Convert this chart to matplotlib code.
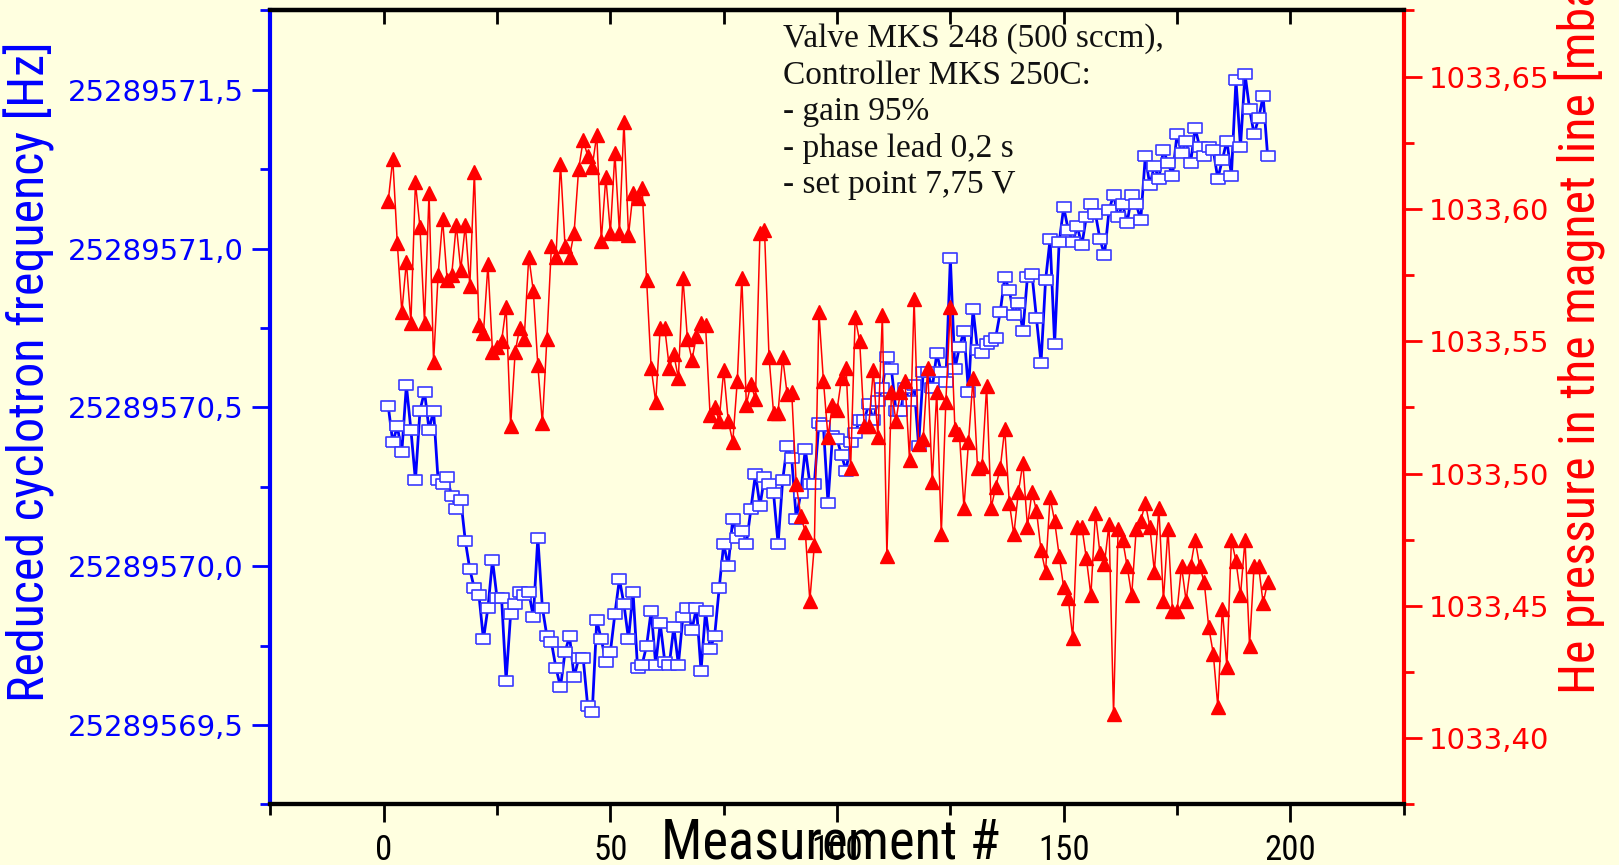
import numpy as np
import matplotlib
matplotlib.use("Agg")
import matplotlib.pyplot as plt
from matplotlib.ticker import MultipleLocator, FuncFormatter
from matplotlib import font_manager

# reduced cyclotron frequency, offset from 25289570 Hz
freq_base = 25289570
freq_offset = [
    0.505, 0.39, 0.44, 0.36, 0.57, 0.43, 0.27, 0.49, 0.55, 0.43,
    0.49, 0.27, 0.26, 0.28, 0.22, 0.18, 0.21, 0.08, -0.01, -0.07,
    -0.09, -0.23, -0.13, 0.02, -0.10, -0.10, -0.36, -0.15, -0.12, -0.08,
    -0.09, -0.08, -0.16, 0.09, -0.13, -0.22, -0.24, -0.32, -0.38, -0.27,
    -0.22, -0.35, -0.29, -0.29, -0.44, -0.46, -0.17, -0.23, -0.30, -0.27,
    -0.15, -0.04, -0.12, -0.23, -0.08, -0.32, -0.31, -0.25, -0.14, -0.31,
    -0.18, -0.30, -0.31, -0.19, -0.31, -0.16, -0.13, -0.20, -0.13, -0.33,
    -0.14, -0.26, -0.22, -0.07, 0.07, 0.00, 0.15, 0.09, 0.11, 0.07,
    0.18, 0.29, 0.19, 0.28, 0.26, 0.23, 0.07, 0.27, 0.38, 0.34,
    0.15, 0.23, 0.37, 0.26, 0.26, 0.45, 0.44, 0.20, 0.41, 0.40,
    0.35, 0.30, 0.39, 0.42, 0.46, 0.46, 0.51, 0.46, 0.52, 0.56,
    0.66, 0.62, 0.49, 0.49, 0.56, 0.52, 0.57, 0.38, 0.61, 0.61,
    0.56, 0.67, 0.61, 0.58, 0.97, 0.62, 0.69, 0.74, 0.55, 0.81,
    0.68, 0.67, 0.70, 0.71, 0.72, 0.80, 0.91, 0.87, 0.79, 0.83,
    0.74, 0.91, 0.92, 0.78, 0.64, 0.90, 1.03, 0.70, 1.02, 1.13,
    1.06, 1.02, 1.07, 1.01, 1.10, 1.14, 1.11, 1.03, 0.98, 1.12,
    1.17, 1.10, 1.14, 1.08, 1.17, 1.14, 1.09, 1.29, 1.20, 1.26,
    1.22, 1.31, 1.27, 1.23, 1.36, 1.30, 1.34, 1.27, 1.38, 1.32,
    1.29, 1.32, 1.31, 1.22, 1.28, 1.34, 1.23, 1.53, 1.32, 1.55,
    1.44, 1.36, 1.41, 1.48, 1.29,
]

# He pressure in the magnet line [mbar]
pressure = [
    1033.603, 1033.619, 1033.587, 1033.561, 1033.580, 1033.557, 1033.610, 1033.593, 1033.557, 1033.606,
    1033.542, 1033.575, 1033.596, 1033.573, 1033.575, 1033.594, 1033.577, 1033.594, 1033.571, 1033.614,
    1033.556, 1033.553, 1033.579, 1033.546, 1033.548, 1033.550, 1033.563, 1033.518, 1033.546, 1033.555,
    1033.551, 1033.582, 1033.569, 1033.541, 1033.519, 1033.551, 1033.586, 1033.582, 1033.617, 1033.586,
    1033.582, 1033.591, 1033.615, 1033.626, 1033.620, 1033.616, 1033.628, 1033.588, 1033.612, 1033.591,
    1033.621, 1033.591, 1033.633, 1033.590, 1033.606, 1033.604, 1033.608, 1033.573, 1033.540, 1033.527,
    1033.555, 1033.555, 1033.540, 1033.545, 1033.536, 1033.574, 1033.551, 1033.543, 1033.552, 1033.557,
    1033.556, 1033.522, 1033.525, 1033.520, 1033.539, 1033.520, 1033.512, 1033.535, 1033.574, 1033.526,
    1033.534, 1033.528, 1033.591, 1033.592, 1033.544, 1033.523, 1033.523, 1033.544, 1033.530, 1033.531,
    1033.496, 1033.484, 1033.478, 1033.452, 1033.473, 1033.561, 1033.535, 1033.514, 1033.526, 1033.524,
    1033.536, 1033.540, 1033.502, 1033.559, 1033.550, 1033.518, 1033.518, 1033.539, 1033.514, 1033.560,
    1033.469, 1033.531, 1033.520, 1033.531, 1033.535, 1033.505, 1033.566, 1033.511, 1033.513, 1033.540,
    1033.497, 1033.531, 1033.477, 1033.527, 1033.563, 1033.517, 1033.515, 1033.487, 1033.512, 1033.536,
    1033.502, 1033.503, 1033.533, 1033.487, 1033.495, 1033.502, 1033.517, 1033.489, 1033.477, 1033.493,
    1033.504, 1033.480, 1033.493, 1033.486, 1033.471, 1033.463, 1033.491, 1033.482, 1033.469, 1033.457,
    1033.453, 1033.438, 1033.480, 1033.480, 1033.468, 1033.454, 1033.485, 1033.470, 1033.466, 1033.481,
    1033.409, 1033.479, 1033.475, 1033.465, 1033.454, 1033.479, 1033.482, 1033.489, 1033.480, 1033.463,
    1033.487, 1033.452, 1033.479, 1033.448, 1033.448, 1033.465, 1033.452, 1033.465, 1033.475, 1033.465,
    1033.459, 1033.442, 1033.432, 1033.412, 1033.449, 1033.427, 1033.475, 1033.467, 1033.454, 1033.475,
    1033.435, 1033.465, 1033.465, 1033.451, 1033.459,
]

measurement = np.arange(1, len(freq_offset) + 1)

note = ("Valve MKS 248 (500 sccm),\nController MKS 250C:\n- gain 95%\n"
        "- phase lead 0,2 s\n- set point 7,75 V")

bg = "#ffffe0"
blue = "#0000ff"
red = "#ff0000"


def narrow_font():
    # look for some condensed sans face, fall back to plain DejaVu Sans
    fl = font_manager.fontManager.ttflist
    for want in ("Liberation Sans Narrow", "Roboto Condensed", "Open Sans Condensed"):
        for f in fl:
            if f.name == want and f.weight in (400, "normal", "regular") and f.style == "normal":
                return font_manager.FontProperties(fname=f.fname)
    for f in fl:
        if f.name == "DejaVu Sans" and "Condensed" in f.fname and "Bold" not in f.fname \
                and "Oblique" not in f.fname:
            return font_manager.FontProperties(fname=f.fname)
    for f in fl:
        if ("Condensed" in f.fname or "Narrow" in f.fname) and "Bold" not in f.fname \
                and "Italic" not in f.fname and "Oblique" not in f.fname and "Sans" in f.name:
            return font_manager.FontProperties(fname=f.fname)
    return font_manager.FontProperties(family="DejaVu Sans")


fp = narrow_font()

fig = plt.figure(figsize=(16.19, 8.65), dpi=100, facecolor=bg)
ax = fig.add_axes([0.167, 0.070, 0.700, 0.918])
ax.set_facecolor(bg)
ax2 = ax.twinx()

rect = [(-1.3, -1), (1.3, -1), (1.3, 1), (-1.3, 1), (-1.3, -1)]
ax.plot(measurement, freq_offset, color=blue, lw=2.0, marker=rect, ms=10,
        mfc="white", mec="#3a3aff", mew=1.2, zorder=3)
ax2.plot(measurement, pressure, color=red, lw=1.1, marker="^", ms=10,
         mfc=red, mec=red, zorder=3)

ax.set_xlim(-25, 225)
ax.set_ylim(-0.75, 1.75)
ax2.set_ylim(1033.375, 1033.675)

ax.xaxis.set_major_locator(MultipleLocator(50))
ax.xaxis.set_minor_locator(MultipleLocator(25))
ax.yaxis.set_major_locator(MultipleLocator(0.5))
ax.yaxis.set_minor_locator(MultipleLocator(0.25))
ax2.yaxis.set_major_locator(MultipleLocator(0.05))
ax2.yaxis.set_minor_locator(MultipleLocator(0.025))

ax.yaxis.set_major_formatter(FuncFormatter(
    lambda v, p: f"{freq_base + v:.1f}".replace(".", ",")))
ax2.yaxis.set_major_formatter(FuncFormatter(
    lambda v, p: f"{v:.2f}".replace(".", ",")))
ax.xaxis.set_major_formatter(FuncFormatter(lambda v, p: f"{v:.0f}"))

for a in (ax, ax2):
    for s in a.spines.values():
        s.set_linewidth(3)
ax.spines["left"].set_color(blue)
ax2.spines["left"].set_visible(False)
ax2.spines["right"].set_color(red)
ax.spines["right"].set_visible(False)

ax.tick_params(axis="x", which="major", direction="out", length=13, width=2,
               pad=8, labelsize=25, labelcolor="black")
ax.tick_params(axis="x", which="minor", direction="out", length=8, width=2)

ax.tick_params(axis="y", which="major", direction="out", length=13, width=2,
               pad=6, labelsize=21, colors=blue)
ax.tick_params(axis="y", which="minor", direction="out", length=7, width=2, colors=blue)
ax2.tick_params(axis="y", which="major", direction="out", length=13, width=2,
                pad=5, labelsize=21, colors=red)
ax2.tick_params(axis="y", which="minor", direction="out", length=7, width=2, colors=red)

top = ax.secondary_xaxis("top")
top.xaxis.set_major_locator(MultipleLocator(25))
top.tick_params(axis="x", direction="in", length=10, width=2, labeltop=False)
top.spines["top"].set_linewidth(3)

ylab = fig.text(0.018, 0.5705, "Reduced cyclotron frequency [Hz]", rotation=90,
                ha="center", va="center", color=blue, fontproperties=fp)
ylab2 = fig.text(0.976, 0.198, "He pressure in the magnet line [mbar]", rotation=90,
                 ha="center", va="bottom", color=red, fontproperties=fp)
xlab = fig.text(0.513, 0.008, "Measurement #", ha="center", va="baseline",
                color="black", fontproperties=fp)
fig.text(0.4834, 0.973, note, ha="left", va="top", fontsize=24,
         family="Liberation Serif", linespacing=1.25, color="#111111")

# size the big labels to the lengths seen in the original
for t in (ylab, ylab2, xlab):
    t.set_fontsize(30)
fig.canvas.draw()
r = fig.canvas.get_renderer()
fs_y = 30 * 661 / ylab.get_window_extent(r).height
fs_x = 30 * 339 / xlab.get_window_extent(r).width
ylab.set_fontsize(fs_y)
ylab2.set_fontsize(fs_y)
xlab.set_fontsize(fs_x)
for lbl in ax.get_xticklabels():
    lbl.set_fontproperties(fp)
    lbl.set_fontsize(25)

fig.savefig("out.png", dpi=100, facecolor=bg)
